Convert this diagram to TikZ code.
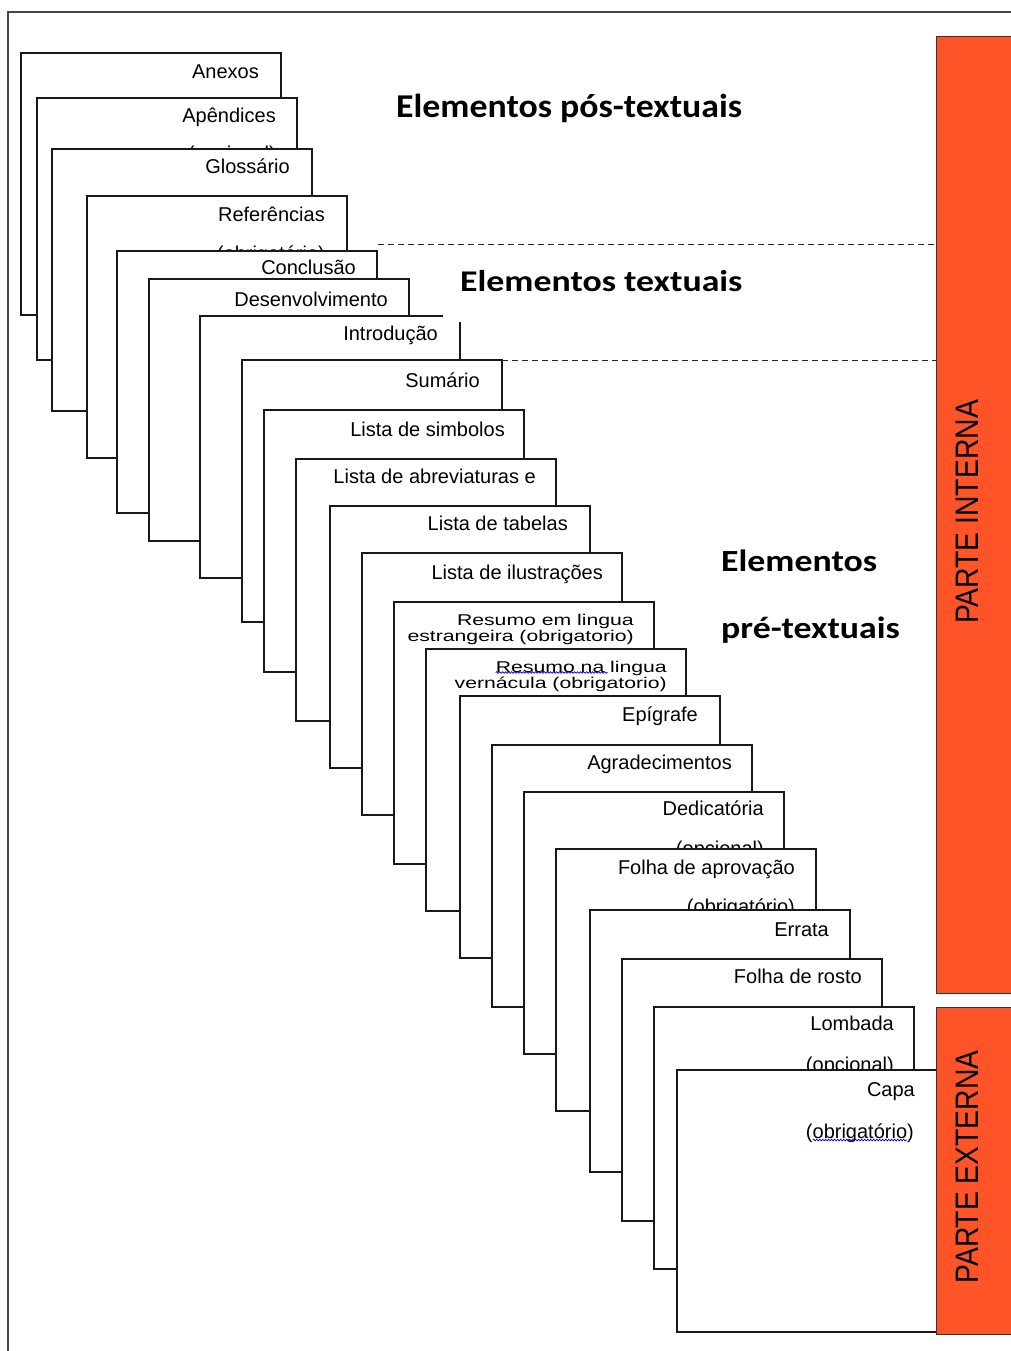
\documentclass[tikz,border=0pt]{standalone}
\usepackage{fontspec}
\setmainfont{Liberation Sans}
\newfontfamily\headfont{Carlito}
\usetikzlibrary{decorations.pathmorphing}
\definecolor{parte}{RGB}{255,84,40}
\definecolor{frame}{RGB}{70,70,70}
\begin{document}
\begin{tikzpicture}[x=1pt,y=-1pt,
  pg/.style={draw=black!90, fill=white, line width=1.3pt, anchor=north west,
    minimum width=260pt, minimum height=262pt, inner sep=0pt, outer sep=0pt},
  pgfill/.style={fill=white, anchor=north west,
    minimum width=260pt, minimum height=262pt, inner sep=0pt, outer sep=0pt},
  boxline/.style={draw=black!90, line width=1.3pt},
  lbl/.style={anchor=base east, inner sep=0pt, font=\fontsize{20}{24}\selectfont},
  head/.style={anchor=base west, inner sep=0pt, font=\headfont\bfseries\fontsize{35.8}{40}\selectfont},
  bar/.style={draw=black!80, line width=0.8pt, fill=parte, anchor=north west,
    minimum width=90pt, inner sep=0pt, outer sep=0pt},
  bartext/.style={rotate=90, inner sep=0pt, font=\fontsize{28.3}{32}\selectfont},
  dline/.style={dash pattern=on 6pt off 4pt, line width=0.9pt, draw=black!85},
  sq/.style={draw=blue!85!black, line width=0.7pt, decorate,
    decoration={snake, amplitude=0.8pt, segment length=3pt}}
]
\useasboundingbox (0,0) rectangle (1010,1351);

% outer frame
\draw[frame, line width=1.8pt] (1012,12) -- (8,12) -- (8,1353);

% headings
\node[head] (hpos) at (396,118) {\scalebox{1}[0.93]{Elementos pós-textuais}};
\node[head] (htex) at (460,291) {\scalebox{1}[0.84]{Elementos textuais}};
\node[head] (hpre1) at (721,571) {\scalebox{1}[0.86]{Elementos}};
\node[head] (hpre2) at (721,638) {\scalebox{1}[0.86]{pré-textuais}};

% pages
\node[pg] (b1) at (21,53) {};
\node[lbl] (l1) at ([xshift=-22pt,yshift=-26pt]b1.north east) {Anexos};

\node[pg] (b2) at (37,98) {};
\node[lbl] (l2) at ([xshift=-21pt,yshift=-25pt]b2.north east) {Apêndices};
\node[lbl] (l2b) at ([yshift=-38pt]l2.base east) {(opcional)};

\node[pg] (b3) at (52,149) {};
\node[lbl] (l3) at ([xshift=-22pt,yshift=-25pt]b3.north east) {Glossário};

\node[pg] (b4) at (87,196) {};
\node[lbl] (l4) at ([xshift=-22pt,yshift=-26pt]b4.north east) {Referências};
\node[lbl] (l4b) at ([yshift=-38pt]l4.base east) {(obrigatório)};

\node[pg] (b5) at (117,251) {};
\node[lbl] (l5) at ([xshift=-21pt,yshift=-23pt]b5.north east) {Conclusão};

\node[pg] (b6) at (149,279) {};
\node[lbl] (l6) at ([xshift=-21pt,yshift=-27pt]b6.north east) {Desenvolvimento};

\node[pgfill] (b7) at (200,316) {};
\draw[boxline] ([xshift=243pt]b7.north west) -- (b7.north west) -- (b7.south west)
  -- (b7.south east) -- ([yshift=-6pt]b7.north east);
\node[lbl] (l7) at ([xshift=-22pt,yshift=-24pt]b7.north east) {Introdução};

\node[pg] (b8) at (242,360) {};
\node[lbl] (l8) at ([xshift=-22pt,yshift=-27pt]b8.north east) {Sumário};

\node[pg] (b9) at (264,410) {};
\node[lbl] (l9) at ([xshift=-19pt,yshift=-26pt]b9.north east) {Lista de simbolos};

\node[pg] (b10) at (296,459) {};
\node[lbl] (l10) at ([xshift=-20pt,yshift=-24pt]b10.north east) {Lista de abreviaturas e};

\node[pg] (b11) at (330,506) {};
\node[lbl] (l11) at ([xshift=-22pt,yshift=-24pt]b11.north east) {Lista de tabelas};

\node[pg] (b12) at (362,553) {};
\node[lbl] (l12) at ([xshift=-19pt,yshift=-26pt]b12.north east) {Lista de ilustrações};

\node[pg] (b13) at (394,602) {};
\node[lbl] (l13) at ([xshift=-20pt,yshift=-23pt]b13.north east) {\scalebox{1.06}[0.78]{Resumo em lingua}};
\node[lbl] (l13b) at ([yshift=-16pt]l13.base east) {\scalebox{1.06}[0.78]{estrangeira (obrigatorio)}};

\node[pg] (b14) at (426,649) {};
\node[lbl] (l14) at ([xshift=-19pt,yshift=-23pt]b14.north east) {\scalebox{1.06}[0.78]{Resumo na lingua}};
\node[lbl] (l14b) at ([yshift=-16pt]l14.base east) {\scalebox{1.06}[0.78]{vernácula (obrigatorio)}};
\draw[sq] ([yshift=-0.5pt]l14.base west) -- ([xshift=112pt,yshift=-0.5pt]l14.base west);

\node[pg] (b15) at (460,696) {};
\node[lbl] (l15) at ([xshift=-22pt,yshift=-25pt]b15.north east) {Epígrafe};

\node[pg] (b16) at (492,745) {};
\node[lbl] (l16) at ([xshift=-20pt,yshift=-24pt]b16.north east) {Agradecimentos};

\node[pg] (b17) at (524,792) {};
\node[lbl] (l17) at ([xshift=-20pt,yshift=-23pt]b17.north east) {Dedicatória};
\node[lbl] (l17b) at ([yshift=-40pt]l17.base east) {(opcional)};

\node[pg] (b18) at (556,849) {};
\node[lbl] (l18) at ([xshift=-21pt,yshift=-25pt]b18.north east) {Folha de aprovação};
\node[lbl] (l18b) at ([yshift=-39pt]l18.base east) {(obrigatório)};

\node[pg] (b19) at (590,910) {};
\node[lbl] (l19) at ([xshift=-21pt,yshift=-26pt]b19.north east) {Errata};

\node[pg] (b20) at (622,959) {};
\node[lbl] (l20) at ([xshift=-20pt,yshift=-24pt]b20.north east) {Folha de rosto};

\node[pg] (b21) at (654,1007) {};
\node[lbl] (l21) at ([xshift=-20pt,yshift=-23pt]b21.north east) {Lombada};
\node[lbl] (l21b) at ([yshift=-41pt]l21.base east) {(opcional)};

\node[pg] (b22) at (677,1070) {};
\node[lbl] (l22) at ([xshift=-22pt,yshift=-26pt]b22.north east) {Capa};
\node[lbl] (l22b) at ([xshift=-1pt,yshift=-42pt]l22.base east) {(obrigatório)};
\draw[sq] ([xshift=7pt,yshift=-2pt]l22b.base west) -- ([xshift=-7pt,yshift=-2pt]l22b.base east);

% red bars
\node[bar, minimum height=957pt] (int) at (936,36) {};
\node[bar, minimum height=327pt] (ext) at (936,1007) {};
\node[bartext] (tint) at (967,512) {\scalebox{1}[1.15]{PARTE INTERNA}};
\node[bartext] (text) at (967,1167) {\scalebox{1}[1.15]{PARTE EXTERNA}};

% dashed separators
\coordinate (d1) at (378,244);
\draw[dline] (d1) -- (d1 -| int.west);
\draw[dline] (b8.north east) -- (b8.north east -| int.west);
\end{tikzpicture}
\end{document}
